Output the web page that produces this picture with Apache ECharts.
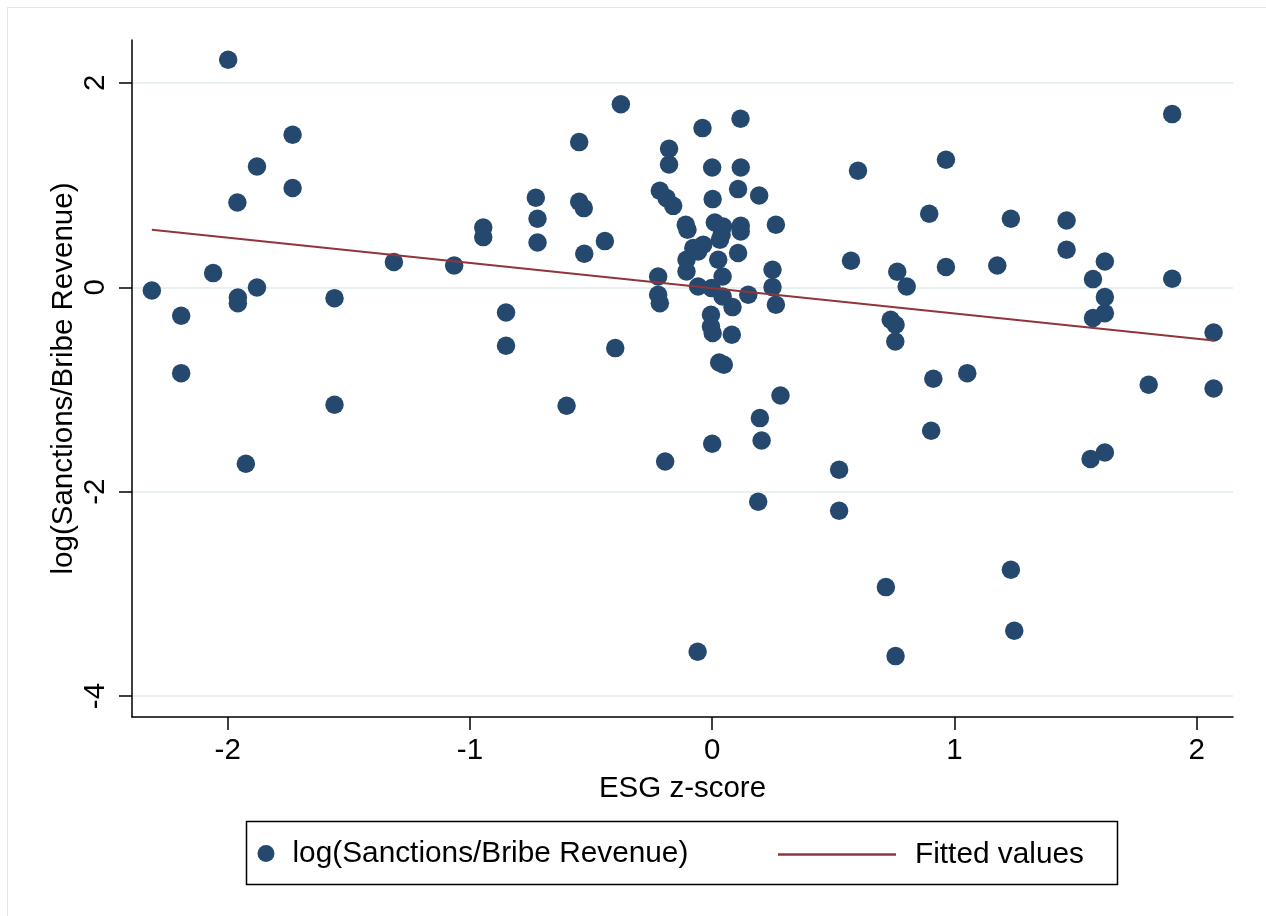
<!DOCTYPE html>
<html>
<head>
<meta charset="utf-8">
<title>ESG z-score vs log(Sanctions/Bribe Revenue)</title>
<script src="https://cdn.jsdelivr.net/npm/echarts@6/dist/echarts.min.js"></script>
<style>
  html, body { margin: 0; padding: 0; background: #ffffff; }
  #chart { width: 1266px; height: 916px; }
</style>
</head>
<body>
<div id="chart"></div>
<script>
// Firm-level observations: ESG z-score against log(Sanctions/Bribe Revenue)
const esgScore = [
  -1.998, -1.732, -1.879, -1.732, -1.960, -2.060, -2.313, -1.879, -1.958, -1.958,
  -2.192, -1.559, -1.314, -2.192, -1.559, -1.925, -1.065, -0.945, -0.945, -0.728,
  -0.721, -0.721, -0.851, -0.851, -0.549, -0.377, -0.549, -0.530, -0.528, -0.443,
  -0.400, -0.601,
  -0.178, -0.178, -0.040, 0.117, 0.000, 0.118, -0.216, -0.188, -0.161, 0.002,
  0.107, 0.194, -0.109, -0.102, 0.011, 0.045, 0.118, 0.118, 0.263, 0.032,
  -0.037, -0.058, 0.107, -0.106, -0.106, 0.025, 0.043, -0.058, -0.002, -0.223,
  -0.223, -0.216, 0.043, 0.084, 0.149, 0.249, 0.249, 0.263, -0.005, -0.005,
  0.002, 0.081, 0.029, 0.048, 0.282, 0.197, 0.204, 0.000, -0.194, 0.190,
  -0.060, -0.078, 0.039,
  0.602, 0.965, 0.896, 1.233, 1.463, 1.463, 1.899, 0.573, 0.764, 0.803,
  0.965, 1.177, 1.621, 1.572, 1.899, 1.621, 1.621, 1.572, 2.070, 0.737,
  0.757, 0.756, 0.913, 1.053, 1.802, 2.070, 0.524, 0.524, 0.904, 1.562,
  1.621, 0.717, 0.757, 1.233, 1.247
];
const logSanctions = [
  2.226, 1.492, 1.182, 0.971, 0.830, 0.139, -0.031, -0.002, -0.100, -0.155,
  -0.279, -0.106, 0.247, -0.840, -1.150, -1.727, 0.213, 0.585, 0.491, 0.876,
  0.670, 0.438, -0.246, -0.572, 1.421, 1.792, 0.837, 0.775, 0.328, 0.452,
  -0.595, -1.159,
  1.355, 1.202, 1.558, 1.649, 1.172, 1.172, 0.944, 0.873, 0.797, 0.863,
  0.961, 0.898, 0.612, 0.563, 0.634, 0.595, 0.602, 0.546, 0.612, 0.465,
  0.416, 0.350, 0.335, 0.269, 0.155, 0.269, 0.106, 0.008, -0.008, 0.106,
  -0.073, -0.155, -0.090, -0.194, -0.073, 0.171, 0.002, -0.171, -0.269, -0.384,
  -0.448, -0.465, -0.736, -0.758, -1.059, -1.280, -1.499, -1.531, -1.704, -2.099,
  -3.567, 0.384, 0.514,
  1.140, 1.248, 0.719, 0.670, 0.654, 0.367, 1.695, 0.259, 0.152, 0.008,
  0.198, 0.213, 0.252, 0.080, 0.083, -0.096, -0.253, -0.301, -0.442, -0.318,
  -0.367, -0.530, -0.895, -0.840, -0.954, -0.990, -1.786, -2.187, -1.404, -1.681,
  -1.616, -2.934, -3.609, -2.764, -3.361
];

// Linear fit, drawn across the observed ESG range
const fitX = [-2.313, 2.070];
const fitY = [0.563, -0.521];

// Tick positions
const xTicks = [-2, -1, 0, 1, 2];
const yTicks = [-4, -2, 0, 2];

const FONT = "'Liberation Sans', Arial, Helvetica, sans-serif";
const NAVY = '#25496e';
const MAROON = '#90353b';

const points = esgScore.map((x, i) => [x, logSanctions[i]]);
const fitLine = fitX.map((x, i) => [x, fitY[i]]);

const chart = echarts.init(document.getElementById('chart'), null, { renderer: 'canvas' });

chart.setOption({
  backgroundColor: '#ffffff',
  animation: false,
  textStyle: { fontFamily: FONT, color: '#000' },
  grid: { left: 132, right: 33, top: 40, bottom: 199, containLabel: false },
  xAxis: {
    type: 'value',
    min: -2.395,
    max: 2.15,
    name: 'ESG z-score',
    nameLocation: 'middle',
    nameGap: 57,
    nameMoveOverlap: false,
    nameTextStyle: { fontFamily: FONT, fontSize: 29.5, color: '#000' },
    axisLine: { show: true, onZero: false, lineStyle: { color: '#000', width: 1.5 } },
    axisTick: { show: true, length: 13, lineStyle: { color: '#000', width: 1.5 }, customValues: xTicks },
    axisLabel: { fontFamily: FONT, fontSize: 29.5, color: '#000', margin: 19, customValues: xTicks },
    splitLine: { show: false }
  },
  yAxis: {
    type: 'value',
    min: -4.205,
    max: 2.42,
    name: 'log(Sanctions/Bribe Revenue)',
    nameLocation: 'middle',
    nameGap: 53,
    nameRotate: 90,
    nameMoveOverlap: false,
    nameTextStyle: { fontFamily: FONT, fontSize: 29.5, color: '#000' },
    axisLine: { show: true, onZero: false, lineStyle: { color: '#000', width: 1.5 } },
    axisTick: { show: true, length: 13, lineStyle: { color: '#000', width: 1.5 }, customValues: yTicks },
    axisLabel: { fontFamily: FONT, fontSize: 29.5, color: '#000', margin: 21, rotate: 90, customValues: yTicks },
    splitLine: { show: false }
  },
  legend: [
    {
      data: ['log(Sanctions/Bribe Revenue)'],
      left: 257.5,
      top: 838.5,
      padding: 0,
      icon: 'circle',
      itemWidth: 17,
      itemHeight: 17,
      selectedMode: false,
      textStyle: { fontFamily: FONT, fontSize: 29.8, color: '#000', padding: [0, 0, 0, 13] }
    },
    {
      data: [{ name: 'Fitted values', icon: 'rect' }],
      left: 778,
      top: 839.5,
      padding: 0,
      itemWidth: 118,
      itemHeight: 2.5,
      selectedMode: false,
      textStyle: { fontFamily: FONT, fontSize: 29.8, color: '#000', padding: [0, 0, 0, 14] }
    }
  ],
  graphic: [
    // faint outer frame of the graph region
    { type: 'line', silent: true, z: -10, shape: { x1: 7, y1: 7.5, x2: 1266, y2: 7.5 }, style: { stroke: '#e6e6e6', lineWidth: 1 } },
    { type: 'line', silent: true, z: -10, shape: { x1: 7.5, y1: 7, x2: 7.5, y2: 916 }, style: { stroke: '#e6e6e6', lineWidth: 1 } },
    // legend frame
    { type: 'rect', silent: true, z: -1, shape: { x: 246.5, y: 821.5, width: 871, height: 63 }, style: { fill: '#fff', stroke: '#000', lineWidth: 1.5 } }
  ],
  series: [
    {
      name: 'log(Sanctions/Bribe Revenue)',
      type: 'scatter',
      data: points,
      symbol: 'circle',
      symbolSize: 18.5,
      itemStyle: { color: NAVY, opacity: 1 },
      z: 2,
      markLine: {
        silent: true,
        z: 0,
        symbol: ['none', 'none'],
        label: { show: false },
        emphasis: { disabled: true },
        lineStyle: { color: '#e8f0f2', width: 2, type: 'solid' },
        data: yTicks.map(v => ({ yAxis: v }))
      }
    },
    {
      name: 'Fitted values',
      type: 'line',
      data: fitLine,
      symbol: 'none',
      showSymbol: false,
      lineStyle: { color: MAROON, width: 2 },
      itemStyle: { color: MAROON },
      z: 3
    }
  ]
});
</script>
</body>
</html>
